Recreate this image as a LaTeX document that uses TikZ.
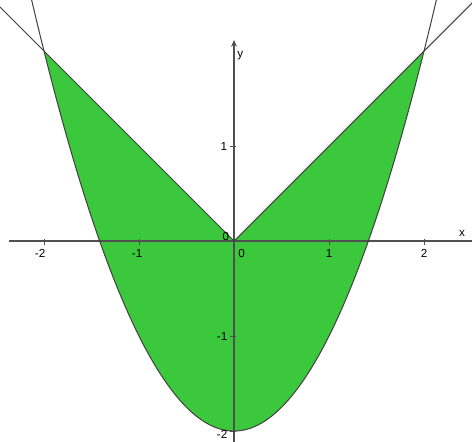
\documentclass[tikz,border=0pt]{standalone}
\usepackage{fontspec}
\setmainfont{Liberation Sans}
\usetikzlibrary{arrows.meta}
\definecolor{areagreen}{RGB}{60,200,60}
\definecolor{axisgray}{RGB}{80,80,80}

\begin{document}
\begin{tikzpicture}[x=2cm,y=2cm,every node/.style={font=\fontsize{7}{8}\selectfont,inner sep=1pt}]
    \useasboundingbox (-2.463,-2.105) rectangle (2.505,2.537);
    \clip (-2.463,-2.105) rectangle (2.505,2.537);
    % Region between |x| and x^2-2
    \fill[areagreen] (-2,2) -- (0,0) -- (2,2) -- plot[domain=2:-2,samples=80] (\x,{\x*\x-2}) -- cycle;
    \draw[axisgray, line width=0.7pt] (-2.37,0) -- (2.6,0);
    \draw[axisgray, line width=0.7pt, -{Stealth[length=4pt,width=3.5pt]}] (0,-2.2) -- (0,2.116);
    \foreach \t in {-2,-1,1,2} \draw[axisgray, line width=0.5pt] (\t,0.02) -- (\t,-0.04);
    \foreach \t in {-2,-1,1} \draw[axisgray, line width=0.5pt] (-0.04,\t) -- (0.02,\t);
    \draw[black!75, line width=0.6pt] plot[domain=-2.2:2.2,samples=100] (\x,{\x*\x-2});
    \draw[black!75, line width=0.6pt] (-2.6,2.6) -- (0,0) -- (2.6,2.6);
    \foreach \t/\p in {-2/-2.04,-1/-1.02,0/0.08,1/1.0,2/2.0} \node (xl\t) at (\p,-0.13) {\t};
    \node (orig) at (-0.085,0.05) {0};
    \foreach \t/\p in {1/1,-1/-1,-2/-2.04} \node[anchor=east] (yl\t) at (-0.05,\p) {\t};
    \node (xname) at (2.4,0.08) {x};
    \node (yname) at (0.065,1.95) {y};
\end{tikzpicture}
\end{document}
